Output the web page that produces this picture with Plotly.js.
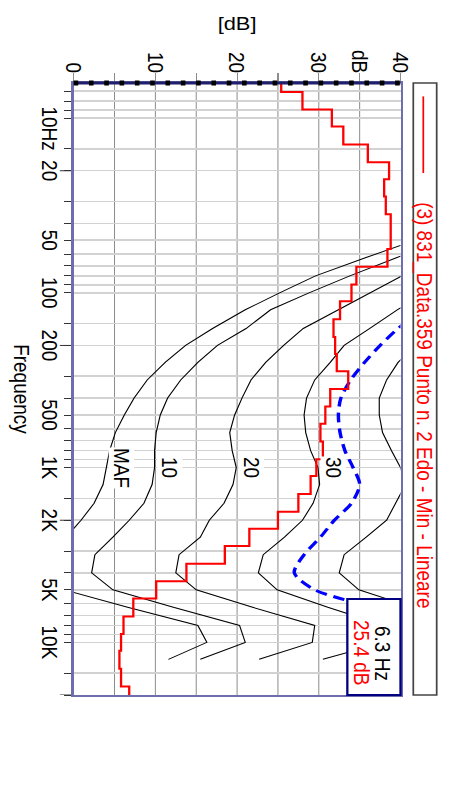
<!DOCTYPE html>
<html><head><meta charset="utf-8">
<script src="https://cdn.plot.ly/plotly-3.0.1.min.js"></script>
<style>
html,body{margin:0;padding:0;background:#fff;overflow:hidden;width:450px;height:787px}
#chart{position:absolute;left:0;top:0;width:787px;height:391px;transform-origin:0 0;transform:translate(450px,0) rotate(90deg) scale(1,1.1509);}
</style></head><body><div id="chart"></div>
<script>
// ---- data ----
const seriesName = '(3) 831_Data.359 Punto n. 2 Edo - Min - Lineare';
const bandFreqs = [6.3,8,10,12.5,16,20,25,31.5,40,50,63,80,100,125,160,200,250,315,400,500,630,800,1000,1250,1600,2000,2500,3150,4000,5000,6300,8000,10000,12500,16000,20000];
const spectrumDb = [25.4,28.0,31.6,33.0,36.0,38.6,38.0,38.2,38.8,38.8,38.4,34.6,34.0,32.6,31.8,32.0,32.2,33.6,31.4,30.8,30.2,30.5,29.7,29.0,27.5,25.0,21.5,18.5,13.8,10.1,7.3,6.1,5.8,5.6,5.8,6.8];

const contourFreqs = [20,25,31.5,40,50,63,80,100,125,160,200,250,315,400,500,630,800,1000,1250,1600,2000,2500,3150,4000,5000,6300,8000,10000,12500];
const contourMAF = [74,65,57,49,41.8,35.7,29.6,25.2,21.0,17.0,13.7,11.2,9.0,7.4,6.2,5.1,4.4,4.0,3.6,2.5,0.9,-0.9,-3.0,-3.4,-1.2,6.6,15.2,16.3,11.6];
const contour10 = [74.5,66,58.5,51.5,45.3,39.5,33.8,28.8,24.1,21.1,17.6,15.2,13.1,11.5,10.6,10.1,9.9,9.9,9.6,8.6,6.8,4.8,2.6,2.2,4.8,12.2,20.3,21.0,15.5];
const contour20 = [76,66,59,53.5,48.6,44.3,40.2,36.4,32.4,28.1,25.7,23.5,21.7,20.6,19.7,19.1,19.4,19.9,19.5,18.4,16.6,15.5,12.9,12.5,15.0,21.9,29.5,29.2,22.7];
const contour30 = [80,72.5,66,60,55,50.5,46.5,43,39.6,36.2,33.1,31.4,29.5,28.5,28.2,28.4,29.0,29.9,30.1,29.3,28.0,25.8,23.2,22.6,24.9,31.1,38.0,38.0,30.5];
const contour40 = [84,78,72,66.5,61.5,57,53,49.5,46.5,44,41.8,39.7,38.3,37.4,37.4,37.8,38.9,40.0,40.6,39.4,38.3,35.8,33.1,32.5,34.9,41.5,48.0,48.0,40.5];
const contourNames = ['MAF','10','20','30','40'];
const labelFreq = 1000;

const thresholdFreqs = [125,160,200,250,315,400,500,630,800,1000,1250,1600,2000,2500,3150,4000,5000,6300,8000];
const thresholdDb = [42.5,39.7,37.5,35.6,33.9,32.7,32.4,32.6,33.2,34.2,35.0,34.0,31.9,30.2,28.2,27.0,29.5,36.7,45];

const freqTickVals = [7,8,9,10,15,20,30,40,50,60,70,80,90,100,150,200,300,400,500,600,700,800,900,1000,1500,2000,3000,4000,5000,6000,7000,8000,9000,10000,15000,20000];
const freqTickText = ['','','','\u00a0\u00a0\u00a0\u00a010Hz','','20','','','50','','','','','100','','200','','','500','','','','','1K','','2K','','','5K','','','','','10K','',''];
const longTickVals = [20,200,2000,20000];
const dbTickVals = [0,5,10,15,20,25,30,35,40];
const dbTickText = ['0','','10','','20','','30','dB','40'];
const freqRange = [6.3,20000];
const dbRange = [0,40];
const cursorFreq = bandFreqs[0];
const cursorDb = spectrumDb[0];

// ---- chart ----
const FONT = 'Liberation Sans, Arial, sans-serif';
const PLOT_H = 391 - 43 - 64;
const contours = [contourMAF, contour10, contour20, contour30, contour40];
const traces = contours.map((c,i)=>({
  type:'scatter', mode:'lines', x:contourFreqs, y:c, name:contourNames[i],
  line:{color:'#000', width:1}, hoverinfo:'skip'
}));
traces.push({type:'scatter', mode:'lines', x:thresholdFreqs, y:thresholdDb,
  line:{color:'#0000ff', width:3, dash:'10px,6px', shape:'spline', smoothing:0.8}, hoverinfo:'skip'});
traces.push({type:'scatter', mode:'lines', x:bandFreqs, y:spectrumDb, name:seriesName,
  line:{color:'#ff0000', width:2, shape:'hvh'}, hoverinfo:'skip'});

const annotations = [];
contours.forEach((c,i)=>{
  const v = c[contourFreqs.indexOf(labelFreq)];
  if (v + 2 < dbRange[1]) annotations.push({
    x:Math.log10(labelFreq), y:v, xref:'x', yref:'y', yshift:13, text:contourNames[i],
    showarrow:false, xanchor:'center', yanchor:'middle', bgcolor:'#fff', borderpad:0,
    font:{family:FONT, size:19, color:'#000'}
  });
});
annotations.push({xref:'paper', yref:'paper', x:0.1907, y:1.0718, xanchor:'left', yanchor:'middle',
  text:seriesName, showarrow:false, font:{family:FONT, size:19, color:'#ff0000'}});
annotations.push({xref:'paper', yref:'paper', x:0.932, y:0.9465, xanchor:'center', yanchor:'middle',
  text:cursorFreq + ' Hz', showarrow:false, font:{family:FONT, size:19, color:'#000'}});
annotations.push({xref:'paper', yref:'paper', x:0.932, y:0.8838, xanchor:'center', yanchor:'middle',
  text:cursorDb.toFixed(1) + ' dB', showarrow:false, font:{family:FONT, size:19, color:'#ff0000'}});

const logRange = freqRange.map(Math.log10);
// cursor position as a fraction of the frequency axis (paper coords so the marker is not clipped)
const cursorPaper = (Math.log10(cursorFreq) - logRange[0]) / (logRange[1] - logRange[0]);

const shapes = [];
// dB grid lines, one per dB tick value, drawn under the traces
dbTickVals.forEach(v => {
  if (v > dbRange[0] && v < dbRange[1]) shapes.push({type:'line', xref:'paper', yref:'y', x0:0, x1:1, y0:v, y1:v,
    layer:'below', line:{color:'#8c8c8c', width:0.87}});
});
shapes.push(
  {type:'line', xref:'paper', yref:'paper', x0:cursorPaper, x1:cursorPaper, y0:0, y1:1, layer:'above',
    line:{color:'#1f1f6b', width:3}},
  {type:'line', xref:'paper', yref:'paper', x0:cursorPaper, x1:cursorPaper, y0:0, y1:1, layer:'above',
    line:{color:'#000', width:5, dash:'4px,9.3px'}},
  {type:'rect', xref:'paper', yref:'paper', x0:0, x1:1, y0:1.0391, y1:1.1107, layer:'above',
    line:{color:'#444', width:1.5}, fillcolor:'#fff'},
  {type:'line', xref:'paper', yref:'paper', x0:0.0219, x1:0.1471, y0:1.0697, y1:1.0697, layer:'above',
    line:{color:'#ff0000', width:1.5}},
  {type:'rect', xref:'paper', yref:'paper', x0:0.843, x1:1, y0:0.8373, y1:1, layer:'above',
    line:{color:'#000080', width:2}, fillcolor:'#fff'}
);
// longer tick marks at 20 Hz, 200 Hz, 2 kHz, 20 kHz
longTickVals.forEach(v => shapes.push({type:'line', xref:'x', yref:'paper', x0:v, x1:v, y0:0, y1:-12/PLOT_H,
  layer:'below', line:{color:'#333', width:1}}));

const layout = {
  width:787, height:391,
  margin:{l:83, r:92, t:43, b:64},
  paper_bgcolor:'#fff', plot_bgcolor:'rgba(0,0,0,0)',
  showlegend:false,
  font:{family:FONT, size:19, color:'#000'},
  xaxis:{type:'log', range:logRange, tickmode:'array', tickvals:freqTickVals, ticktext:freqTickText,
    ticks:'outside', ticklen:6, tickcolor:'#333', tickwidth:1, ticklabelstandoff:-3,
    showgrid:true, gridcolor:'#d2d2d2', gridwidth:1.5, zeroline:false,
    showline:true, linecolor:'#6e6eae', linewidth:2, mirror:true,
    tickfont:{family:FONT, size:19, color:'#000'},
    title:{text:'Frequency', font:{family:FONT, size:19, color:'#000'}, standoff:8}},
  yaxis:{range:dbRange, tickmode:'array', tickvals:dbTickVals, ticktext:dbTickText,
    ticks:'outside', ticklen:8, tickcolor:'#8c8c8c', tickwidth:1, ticklabelstandoff:-4,
    showgrid:false, zeroline:false,
    showline:true, linecolor:'#6e6eae', linewidth:2, mirror:true,
    tickfont:{family:FONT, size:19, color:'#000'},
    title:{text:'[dB]', font:{family:FONT, size:19, color:'#000'}, standoff:14}},
  shapes:shapes,
  annotations:annotations
};
Plotly.newPlot('chart', traces, layout, {displayModeBar:false, staticPlot:true});
</script></body></html>
